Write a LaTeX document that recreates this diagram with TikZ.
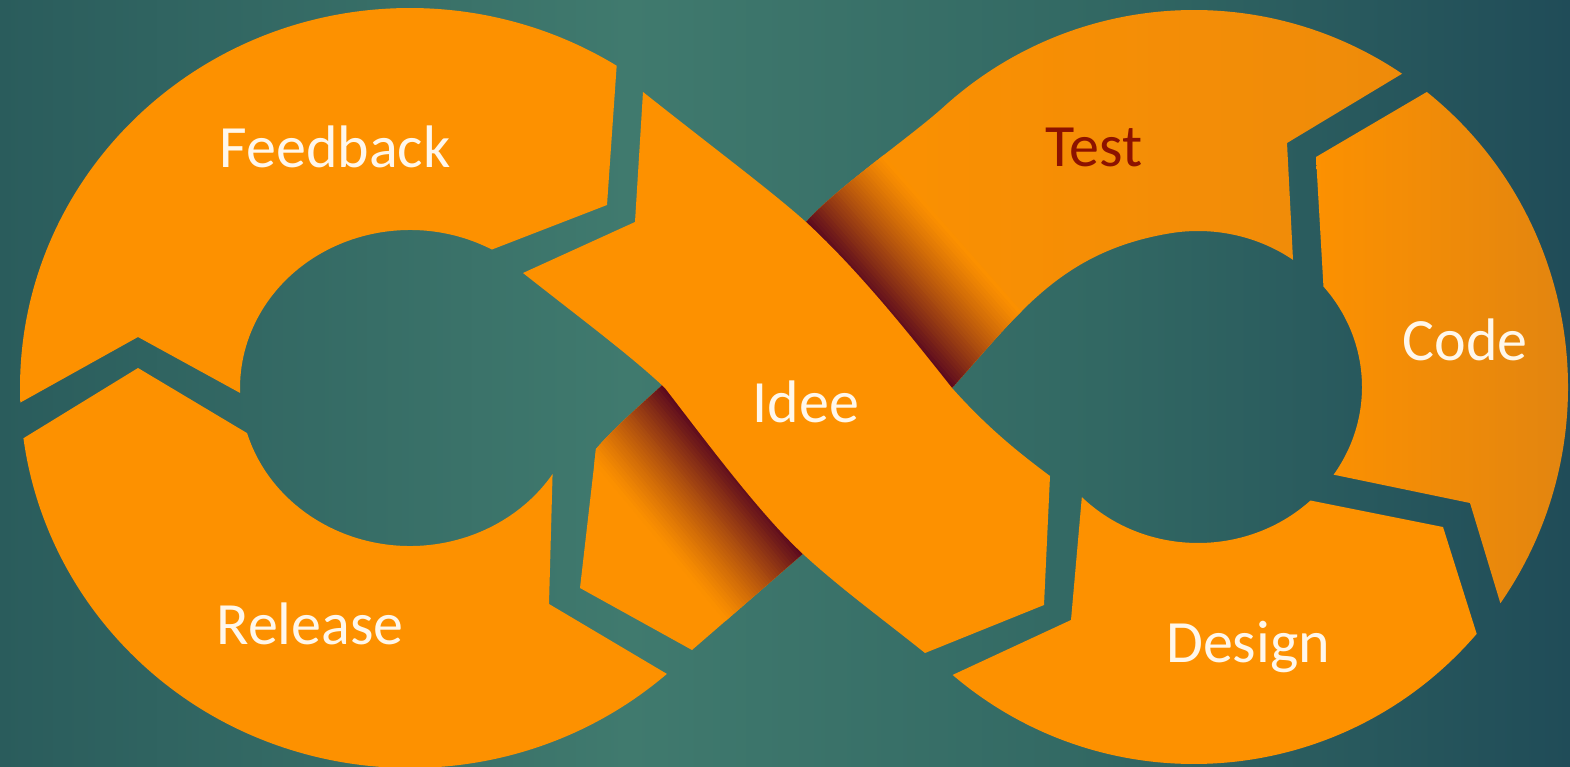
\documentclass[tikz,border=0pt]{standalone}
\usepackage{fontspec}
\setmainfont{Carlito}
\definecolor{orng}{RGB}{253,145,0}
\definecolor{orngD}{RGB}{226,133,16}
\definecolor{orngT}{RGB}{238,139,10}
\definecolor{shad}{RGB}{92,10,30}
\definecolor{bgA}{RGB}{42,92,92}
\definecolor{bgB}{RGB}{64,122,110}
\definecolor{bgC}{RGB}{50,104,99}
\definecolor{bgD}{RGB}{32,76,88}
\definecolor{txtw}{RGB}{255,247,235}
\definecolor{txtr}{RGB}{140,18,0}
\pgfdeclarehorizontalshading{bgshade}{100bp}{color(0bp)=(bgA); color(25bp)=(bgA); color(45bp)=(bgB); color(60bp)=(bgC); color(75bp)=(bgD); color(100bp)=(bgD)}
\begin{document}
\begin{tikzpicture}[x=1pt,y=-1pt,
  lbl/.style={font=\fontsize{60}{72}\selectfont, text=txtw, anchor=base, inner sep=0pt},
  segfill/.style={fill=orng}]
\useasboundingbox (0,0) rectangle (1570,767);
\shade[shading=bgshade] (0,0) rectangle (1570,767);

% ---------- Feedback ----------
\fill[segfill] ({410+390*cos(177.8)},{388+380*sin(177.8)})
  arc[start angle=177.8, end angle=302, x radius=390, y radius=380]
  -- (607,205)
  -- ({410+170*cos(298.8)},{388+158*sin(298.8)})
  arc[start angle=298.8, end angle=178.2, x radius=170, y radius=158]
  -- (138,337) -- cycle;

% ---------- Release ----------
\fill[segfill] ({410+390*cos(172.4)},{388+380*sin(172.4)})
  -- (138,368)
  -- ({410+170*cos(163.4)},{388+158*sin(163.4)})
  arc[start angle=163.4, end angle=33, x radius=170, y radius=158]
  -- (549,604)
  -- ({410+390*cos(48.8)},{388+380*sin(48.8)})
  arc[start angle=48.8, end angle=172.4, x radius=390, y radius=380]
  -- cycle;

% ---------- lower-left piece (under the crossing) ----------
\begin{scope}
\clip (659,388) .. controls (635,410) and (612,430) .. (596,449)
  -- (580,588) -- (692,650) -- (850,513) -- (700,350) -- cycle;
\fill[orng] (550,330) rectangle (870,670);
\foreach \k in {-5,...,33} {
  \pgfmathsetmacro\t{\k*3}
  \pgfmathsetmacro\u{\k*3+3.6}
  \pgfmathtruncatemacro\p{100*(1-max(\k,0)/34)^1.2}
  \fill[shad!\p!orng] ({665-0.769*\t-0.639*80},{388+0.639*\t-0.769*80})
    -- ({665-0.769*\t+0.639*300},{388+0.639*\t+0.769*300})
    -- ({665-0.769*\u+0.639*300},{388+0.639*\u+0.769*300})
    -- ({665-0.769*\u-0.639*80},{388+0.639*\u-0.769*80}) -- cycle;
}
\end{scope}

% ---------- Test ----------
\begin{scope}
\clip (790,240) -- (806,222)
  .. controls (835.8,188.3) and (910.4,137) .. ({1194+374*cos(228)},{387+377*sin(228)})
  arc[start angle=228, end angle=303.8, x radius=374, y radius=377]
  -- (1287,143)
  -- ({1198+164*cos(305.4)},{387+156*sin(305.4)})
  arc[start angle=305.4, end angle=260, x radius=164, y radius=156]
  .. controls (1061,251.6) and (1018.8,313.6) .. (952,388)
  -- (935,410) -- cycle;
\shade[left color=orng, right color=orngT] (780,0) rectangle (1410,420);
\foreach \k in {-5,...,33} {
  \pgfmathsetmacro\t{\k*3}
  \pgfmathsetmacro\u{\k*3+3.6}
  \pgfmathtruncatemacro\p{100*(1-max(\k,0)/34)^1.2}
  \fill[shad!\p!orng] ({806+0.751*\t-0.661*80},{222-0.661*\t-0.751*80})
    -- ({806+0.751*\t+0.661*300},{222-0.661*\t+0.751*300})
    -- ({806+0.751*\u+0.661*300},{222-0.661*\u+0.751*300})
    -- ({806+0.751*\u-0.661*80},{222-0.661*\u-0.751*80}) -- cycle;
}
\end{scope}

% ---------- Idee band (on top) ----------
\fill[segfill] (643,92)
  .. controls (720,153) and (770,190) .. (806,222)
  .. controls (860,272) and (910,335) .. (952,388)
  .. controls (985,425) and (1015,450) .. (1050,476)
  -- (1044,605) -- (925,653)
  .. controls (880,617) and (840,588) .. (803,554)
  .. controls (760,514) and (705,440) .. (665,388)
  .. controls (630,355) and (580,318) .. (523,273)
  -- (635,222) -- cycle;

% ---------- Code ----------
\begin{scope}
\clip ({1194+374*cos(-51.5)},{387+377*sin(-51.5)})
  -- (1316,157)
  -- ({1198+164*cos(-40.1)},{387+156*sin(-40.1)})
  arc[start angle=-40.1, end angle=34.2, x radius=164, y radius=156]
  -- (1470,503)
  -- ({1194+374*cos(35)},{387+377*sin(35)})
  arc[start angle=35, end angle=-51.5, x radius=374, y radius=377]
  -- cycle;
\shade[left color=orng, right color=orngD] (1310,80) rectangle (1570,630);
\end{scope}

% ---------- Design ----------
\fill[segfill] ({1198+164*cos(135.1)},{387+156*sin(135.1)})
  arc[start angle=135.1, end angle=46.7, x radius=164, y radius=156]
  -- (1443,527)
  -- ({1194+374*cos(40.9)},{387+377*sin(40.9)})
  arc[start angle=40.9, end angle=130.2, x radius=374, y radius=377]
  -- (1071,620) -- cycle;

% ---------- labels ----------
\node[lbl] (feedback) at (335,168) {Feedback};
\node[lbl, text=txtr] (test) at (1094,167) {Test};
\node[lbl] (code) at (1465,360) {Code};
\node[lbl] (idee) at (806,422) {Idee};
\node[lbl] (release) at (310,644) {Release};
\node[lbl] (design) at (1248,662) {Design};
\end{tikzpicture}
\end{document}
